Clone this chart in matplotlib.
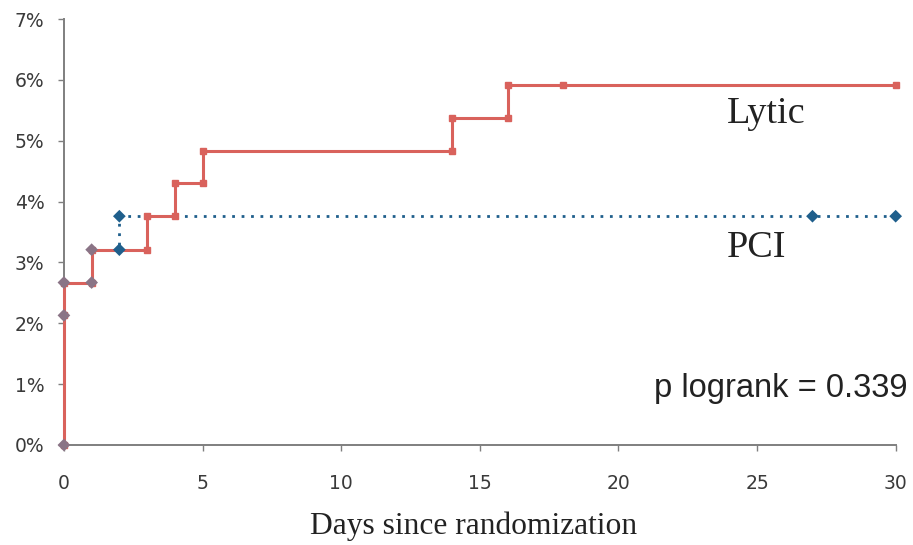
import matplotlib
matplotlib.use("Agg")
import matplotlib.pyplot as plt
from matplotlib.ticker import FuncFormatter

# Kaplan-Meier style step points (day, cumulative %), both corners of each step
lytic_days = [0, 0, 0, 1, 1, 3, 3, 4, 4, 5, 5, 14, 14, 16, 16, 18, 30]
lytic_pct = [0, 2.13, 2.67, 2.67, 3.21, 3.21, 3.76, 3.76, 4.31, 4.31, 4.83, 4.83, 5.37, 5.37, 5.91, 5.91, 5.91]

pci_days = [0, 0, 0, 1, 1, 2, 2, 27, 30]
pci_pct = [0, 2.13, 2.67, 2.67, 3.21, 3.21, 3.76, 3.76, 3.76]

x_ticks = [0, 5, 10, 15, 20, 25, 30]
y_ticks = [0, 1, 2, 3, 4, 5, 6, 7]

red = "#d9625c"
blue = "#1f5f8c"
mixed = "#8a7486"

fig = plt.figure(figsize=(9.13, 5.45), dpi=100)
ax = fig.add_axes([0.070, 0.1835, 0.911, 0.7815])

# PCI line underneath
ax.plot(pci_days, pci_pct, color=blue, lw=2.0, ls=(0, (1, 2.4)), zorder=2, clip_on=False)
# Lytic on top
ax.plot(lytic_days, lytic_pct, color=red, lw=2.2, marker="s", ms=4.5,
        mfc=red, mec=red, zorder=3, clip_on=False)

# PCI diamonds: greyish where they sit on the lytic curve
lytic_pts = set(zip(lytic_days, lytic_pct))
cols = [mixed if (d, p) in lytic_pts else blue for d, p in zip(pci_days, pci_pct)]
ax.scatter(pci_days, pci_pct, marker="D", s=42, c=cols, edgecolors="none", zorder=4, clip_on=False)

ax.set_xlim(0, 30)
ax.set_ylim(0, 7)
ax.set_xticks(x_ticks)
ax.set_yticks(y_ticks)
ax.yaxis.set_major_formatter(FuncFormatter(lambda v, pos: f"{v:.0f}%"))

for s in ["top", "right"]:
    ax.spines[s].set_visible(False)
for s in ["left", "bottom"]:
    ax.spines[s].set_color("#7f7f7f")
    ax.spines[s].set_linewidth(1.4)

ax.tick_params(axis="x", direction="out", length=4, width=1, color="#7f7f7f",
               pad=17, labelsize=13.5, labelcolor="#3a3a3a")
ax.tick_params(axis="y", direction="out", length=4, width=1, color="#7f7f7f",
               pad=10, labelsize=13.5, labelcolor="#3a3a3a")

serif = ["Liberation Serif", "DejaVu Serif"]
ax.text(23.9, 5.29, "Lytic", family=serif, fontsize=27.5, color="#222222", ha="left", va="baseline")
ax.text(23.9, 3.09, "PCI", family=serif, fontsize=27.5, color="#222222", ha="left", va="baseline")
ax.text(21.3, 0.79, "p logrank = 0.339", family=["Liberation Sans", "DejaVu Sans"],
        fontsize=23.5, color="#222222", ha="left", va="baseline")

fig.text(474 / 913, 1 - 526 / 545, "Days since randomization", family=serif,
         fontsize=22.7, color="#222222", ha="center", va="center")

fig.savefig("out.png", dpi=100, facecolor="white")
